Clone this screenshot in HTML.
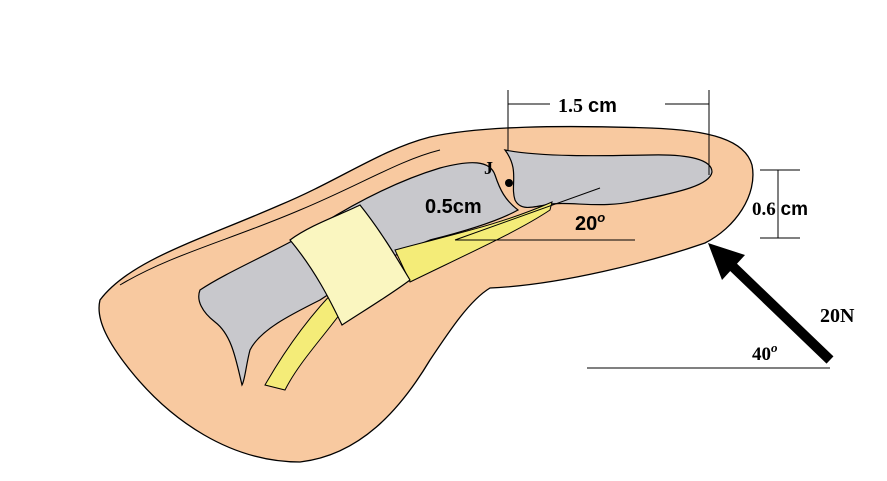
<!DOCTYPE html>
<html><head><meta charset="utf-8"><style>
html,body{margin:0;padding:0;background:#fff}
svg{display:block}
text{font-family:"Liberation Serif",serif;font-weight:bold;fill:#000}
.s{font-family:"Liberation Sans",sans-serif}
</style></head><body>
<svg width="887" height="481" viewBox="0 0 887 481">
<path d="M100,300 C130,260 200,240 280,205 C340,180 380,150 430,137 C480,126 560,125 650,128 C710,130 745,140 752,165 C758,195 735,228 705,243 C650,262 560,285 490,288 C470,300 450,330 430,360 C400,410 360,455 300,462 C230,462 170,420 130,370 C110,345 95,320 100,300 Z" fill="#F8C9A0" stroke="#000" stroke-width="1.3"/>
<path d="M120,285 C170,255 230,240 300,210 C360,185 400,160 440,150" fill="none" stroke="#000" stroke-width="1"/>
<path d="M200,290 C230,270 280,250 320,225 C360,200 400,180 440,168 C470,160 490,160 495,175 C500,190 505,200 518,210 C500,220 470,230 430,240 C390,255 350,280 320,300 C290,315 260,330 250,350 C246,365 245,380 242,385 C236,360 232,335 215,322 C202,312 196,300 200,290 Z" fill="#C8C8CC" stroke="#000" stroke-width="1.2"/>
<path d="M505,150 C540,157 600,156 650,155 C690,154 712,160 712,172 C710,185 680,192 640,200 C600,210 570,200 545,205 C530,208 520,210 515,200 C510,185 520,170 505,150 Z" fill="#C8C8CC" stroke="#000" stroke-width="1.2"/>
<path d="M265,385 C285,350 310,315 340,285 L350,300 C330,330 300,360 285,390 Z" fill="#F4EC78" stroke="#000" stroke-width="1"/>
<path d="M395,250 C450,235 500,225 552,202 L550,210 C520,230 480,248 410,282 Z" fill="#F4EC78" stroke="#000" stroke-width="1"/>
<path d="M455,240 L600,188" stroke="#000" stroke-width="1"/>
<path d="M290,240 C310,225 340,215 360,205 C380,230 395,255 410,280 C390,295 365,310 342,325 C330,300 315,270 290,240 Z" fill="#FAF6C0" stroke="#000" stroke-width="1.2"/>
<circle cx="509" cy="183" r="4" fill="#000"/>
<text x="484" y="174" font-size="18">J</text>
<text x="425" y="213" font-size="20" class="s">0.5cm</text>
<line x1="508" y1="90" x2="508" y2="150" stroke="#000"/>
<line x1="709" y1="90" x2="709" y2="175" stroke="#000"/>
<line x1="508" y1="104" x2="550" y2="104" stroke="#000"/>
<line x1="665" y1="104" x2="709" y2="104" stroke="#000"/>
<text x="558" y="112" font-size="20">1.5 <tspan class="s">cm</tspan></text>
<line x1="455" y1="240" x2="635" y2="240" stroke="#000"/>
<text x="575" y="230" font-size="20" class="s">20<tspan font-size="13" dy="-8" font-style="italic">o</tspan></text>
<line x1="778" y1="170" x2="778" y2="238" stroke="#000"/>
<line x1="760" y1="170" x2="800" y2="170" stroke="#000"/>
<line x1="760" y1="238" x2="800" y2="238" stroke="#000"/>
<text x="752" y="215" font-size="19">0.6 <tspan class="s">cm</tspan></text>
<line x1="587" y1="368" x2="830" y2="368" stroke="#000"/>
<line x1="830" y1="360" x2="728" y2="262" stroke="#000" stroke-width="10"/>
<polygon points="708,243 745,255 722,280" fill="#000"/>
<text x="820" y="322" font-size="20">20N</text>
<text x="752" y="360" font-size="19">40<tspan font-size="13" dy="-8" font-style="italic">o</tspan></text>
</svg>
</body></html>
